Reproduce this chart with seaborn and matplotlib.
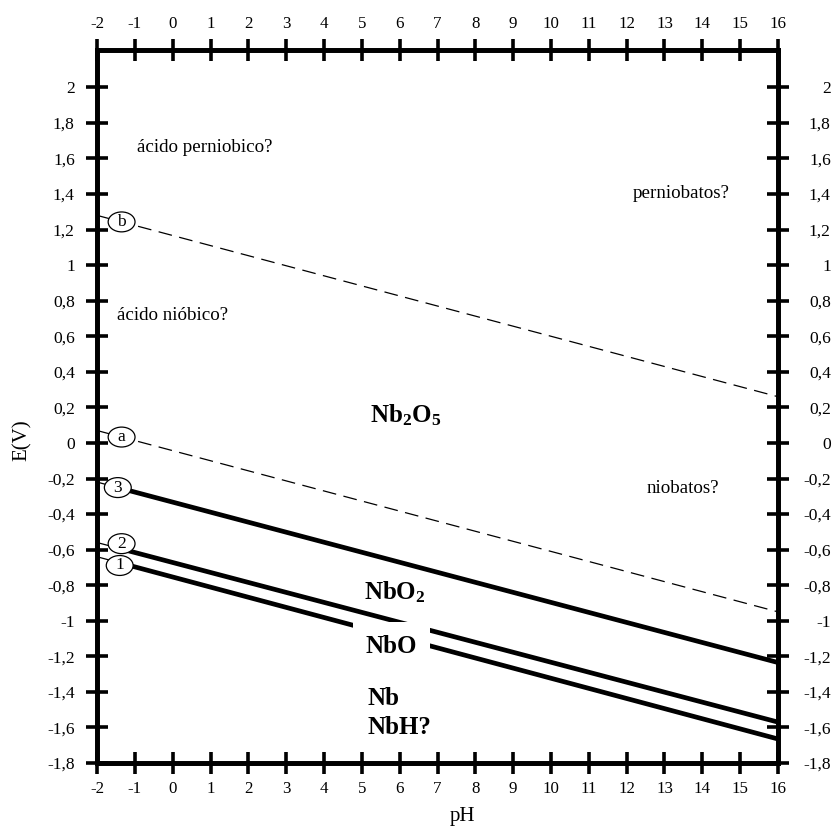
import numpy as np
import pandas as pd
import matplotlib
matplotlib.use("Agg")
import matplotlib.pyplot as plt
import seaborn as sns
from matplotlib.patches import Ellipse, Rectangle

# ---------------- data ----------------
line_ids = ["b", "a", "3", "2", "1"]
ph_ends = [-2, 16]
e_at_start = [1.28, 0.07, -0.22, -0.56, -0.64]     # E (V) at pH -2
e_at_end = [0.26, -0.95, -1.235, -1.57, -1.665]    # E (V) at pH 16
line_kind = ["dashed", "dashed", "solid", "solid", "solid"]
circle_ph = [-1.35, -1.35, -1.45, -1.35, -1.40]
circle_shift = [0.0, 0.0, 0.0, 0.03, -0.015]        # small vertical offset of the label circle (V)

x_ticks = list(range(-2, 17))
y_ticks = [-1.8, -1.6, -1.4, -1.2, -1.0, -0.8, -0.6, -0.4, -0.2, 0.0,
           0.2, 0.4, 0.6, 0.8, 1.0, 1.2, 1.4, 1.6, 1.8, 2.0]
y_tick_labels = ["-1,8", "-1,6", "-1,4", "-1,2", "-1", "-0,8", "-0,6", "-0,4", "-0,2", "0",
                 "0,2", "0,4", "0,6", "0,8", "1", "1,2", "1,4", "1,6", "1,8", "2"]

region_texts = ["ácido perniobico?", "perniobatos?", "ácido nióbico?", "niobatos?"]
region_pos = [(-0.94, 1.663, "left"), (13.45, 1.404, "center"),
              (-1.47, 0.718, "left"), (13.48, -0.254, "center")]

phase_texts = [r"$\mathbf{Nb_2O_5}$", r"$\mathbf{NbO_2}$", "NbO", "Nb", "NbH?"]
phase_pos = [(6.15, 0.156, "center"), (5.86, -0.839, "center"),
             (5.78, -1.142, "center"), (5.14, -1.44, "left"), (5.14, -1.603, "left")]

# ---------------- style ----------------
sns.set_theme(style="white")
plt.rcParams["font.family"] = ["Liberation Serif", "DejaVu Serif"]
plt.rcParams["mathtext.fontset"] = "custom"
plt.rcParams["mathtext.rm"] = "Liberation Serif"
plt.rcParams["mathtext.bf"] = "Liberation Serif:bold"
plt.rcParams["mathtext.it"] = "Liberation Serif:italic"
plt.rcParams["text.color"] = "black"
plt.rcParams["axes.labelcolor"] = "black"
plt.rcParams["xtick.color"] = "black"
plt.rcParams["ytick.color"] = "black"

fig = plt.figure(figsize=(8.35, 8.26), dpi=100)
ax = fig.add_axes([97 / 835, 1 - 763 / 826, 681 / 835, 713 / 826])
ax.set_facecolor("white")

XMIN, XMAX = -2, 16
YMIN, YMAX = -1.8, 2.21

# ---------------- lines ----------------
for lid, e0, e1, kind, cph, cs in zip(line_ids, e_at_start, e_at_end, line_kind,
                                      circle_ph, circle_shift):
    df = pd.DataFrame({"pH": ph_ends, "E": [e0, e1]})
    # thin leader from the axis to the label circle
    sns.lineplot(data=df, x="pH", y="E", ax=ax, color="black", lw=0.9, zorder=2)
    leader = ax.lines[-1]
    leader.set_clip_path(Rectangle((XMIN - 1, YMIN - 1), cph - XMIN + 1, 6,
                                   transform=ax.transData))
    # main line
    if kind == "dashed":
        sns.lineplot(data=df, x="pH", y="E", ax=ax, color="black", lw=0.9, zorder=2)
        main = ax.lines[-1]
        main.set_linestyle((0, (11, 6)))
    else:
        sns.lineplot(data=df, x="pH", y="E", ax=ax, color="black", lw=3.4, zorder=2)
        main = ax.lines[-1]
        main.set_solid_capstyle("butt")
    main.set_clip_path(Rectangle((cph, YMIN - 1), XMAX - cph + 1, 6,
                                 transform=ax.transData))
    # circled label
    ey = e0 + (e1 - e0) * (cph - ph_ends[0]) / (ph_ends[1] - ph_ends[0]) + cs
    ax.add_patch(Ellipse((cph, ey), 0.71, 0.112, facecolor="white",
                         edgecolor="black", lw=0.9, zorder=4))
    ax.text(cph, ey, lid, ha="center", va="center", fontsize=12.5, zorder=5)

# ---------------- texts ----------------
for t, (px, py, ha) in zip(region_texts, region_pos):
    ax.text(px, py, t, ha=ha, va="center", fontsize=13.7, zorder=3)

for t, (px, py, ha) in zip(phase_texts, phase_pos):
    kw = {}
    if t == "NbO":
        kw["bbox"] = dict(boxstyle="square,pad=0.5", facecolor="white", edgecolor="none")
    ax.text(px, py, t, ha=ha, va="center", fontsize=18, fontweight="bold",
            zorder=6, **kw)

# ---------------- axes ----------------
ax.set_xlim(XMIN, XMAX)
ax.set_ylim(YMIN, YMAX)
ax.set_xticks(x_ticks)
ax.set_xticklabels([str(v) for v in x_ticks])
ax.set_yticks(y_ticks)
ax.set_yticklabels(y_tick_labels)

for sp in ax.spines.values():
    sp.set_visible(True)
    sp.set_color("black")
    sp.set_linewidth(3.4)

ax.tick_params(axis="x", which="major", direction="inout", length=16, width=2.6,
               top=True, bottom=True, labeltop=True, labelbottom=True,
               pad=5, labelsize=12.2, colors="black")
ax.tick_params(axis="y", which="major", direction="inout", length=16, width=2.6,
               left=True, right=False, labelleft=True, labelright=False,
               pad=8, labelsize=12.6, colors="black")

ax2 = ax.twinx()
ax2.set_ylim(YMIN, YMAX)
ax2.set_yticks(y_ticks)
ax2.set_yticklabels(y_tick_labels, ha="right")
ax2.tick_params(axis="y", which="major", direction="inout", length=16, width=2.6,
                right=True, labelright=True, pad=30, labelsize=12.6, colors="black")
for sp in ax2.spines.values():
    sp.set_linewidth(3.4)
    sp.set_color("black")
ax2.grid(False)
ax.grid(False)

ax.set_xlabel("pH", fontsize=15)
ax.xaxis.set_label_coords((462 - 97) / 681, -(817 - 763) / 713)
ax.xaxis.label.set_va("center")
ax.set_ylabel("E(V)", fontsize=15)
ax.yaxis.set_label_coords((22 - 97) / 681, (763 - 440) / 713)
ax.yaxis.label.set_va("center")

fig.savefig("out.png", dpi=100, facecolor="white")
